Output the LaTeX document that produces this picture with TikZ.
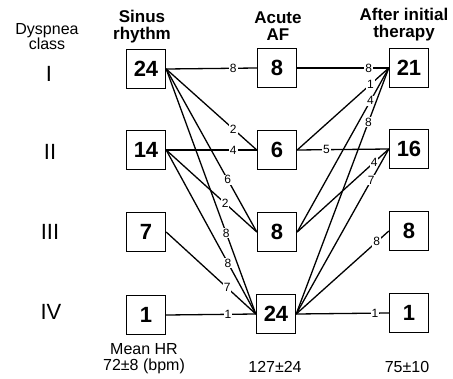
\documentclass[tikz,border=0pt]{standalone}
\usepackage{fontspec}
\setmainfont{Liberation Sans}
\usepackage{tikz}
\usetikzlibrary{positioning}

\begin{document}
\begin{tikzpicture}[x=1pt, y=-1pt, line width=1.3pt,
    box/.style={draw, line width=1.4pt, minimum width=39pt, minimum height=39pt, inner sep=0pt, font=\fontsize{22}{22}\selectfont\bfseries},
    lbl/.style={fill=white, inner sep=1pt, font=\fontsize{12}{12}\selectfont},
    hdr/.style={align=center, font=\fontsize{17}{17}\selectfont\bfseries},
    txt/.style={align=center, font=\fontsize{16}{16}\selectfont},
    cls/.style={font=\fontsize{22}{22}\selectfont}]
    \useasboundingbox (0,0) rectangle (453,378);

    % Headings
    \node[txt, font=\fontsize{16}{15}\selectfont] (dysp) at (47,37) {Dyspnea\\class};
    \node[hdr] (sinus) at (142,27) {Sinus\\rhythm};
    \node[hdr] (acute) at (278,26) {Acute\\AF};
    \node[hdr] (after) at (404,25) {After initial\\therapy};

    % Dyspnea classes
    \node[cls] (c1) at (49,74) {I};
    \node[cls] (c2) at (50,152) {II};
    \node[cls] (c3) at (50,232) {III};
    \node[cls] (c4) at (51,312) {IV};

    % Sinus rhythm
    \node[box] (sr1) at (146,69) {24};
    \node[box] (sr2) at (146,150) {14};
    \node[box] (sr3) at (146,232) {7};
    \node[box] (sr4) at (146,315) {1};

    % Acute AF
    \node[box] (af1) at (277,68) {8};
    \node[box] (af2) at (277,150) {6};
    \node[box] (af3) at (277,232) {8};
    \node[box] (af4) at (276,314) {24};

    % After initial therapy
    \node[box] (at1) at (409,68) {21};
    \node[box] (at2) at (409,149) {16};
    \node[box] (at3) at (409,231) {8};
    \node[box] (at4) at (409,313) {1};

    % Sinus rhythm -> acute AF
    \draw (sr1.east) -- node[lbl, pos=.74] {8} (af1.west);
    \draw (sr1.east) -- node[lbl, pos=.74] {2} (af2.west);
    \draw (sr1.east) -- node[lbl, pos=.68] {6} (af3.west);
    \draw (sr1.east) -- node[lbl, pos=.67] {8} (af4.west);
    \draw (sr2.east) -- node[lbl, pos=.74] {4} (af2.west);
    \draw (sr2.east) -- node[lbl, pos=.65] {2} (af3.west);
    \draw (sr2.east) -- node[lbl, pos=.69] {8} (af4.west);
    \draw (sr3.east) -- node[lbl, pos=.68] {7} (af4.west);
    \draw (sr4.east) -- node[lbl, pos=.69] {1} (af4.west);

    % Acute AF -> after initial therapy
    \draw (af1.east) -- node[lbl, pos=.78] {8} (at1.west);
    \draw (af2.east) -- node[lbl, pos=.80] {1} (at1.west);
    \draw (af2.east) -- node[lbl, pos=.32] {5} (at2.west);
    \draw (af3.east) -- node[lbl, pos=.80] {4} (at1.west);
    \draw (af3.east) -- node[lbl, pos=.84] {4} (at2.west);
    \draw (af4.east) -- node[lbl, pos=.78] {8} (at1.west);
    \draw (af4.east) -- node[lbl, pos=.81] {7} (at2.west);
    \draw (af4.east) -- node[lbl, pos=.87] {8} (at3.west);
    \draw (af4.east) -- node[lbl, pos=.85] {1} (at4.west);

    % Heart rates below
    \node[txt] (hr1) at (144,359) {Mean HR\\72±8 (bpm)};
    \node[txt] (hr2) at (275,367) {127±24};
    \node[txt] (hr3) at (407,367) {75±10};
\end{tikzpicture}
\end{document}
